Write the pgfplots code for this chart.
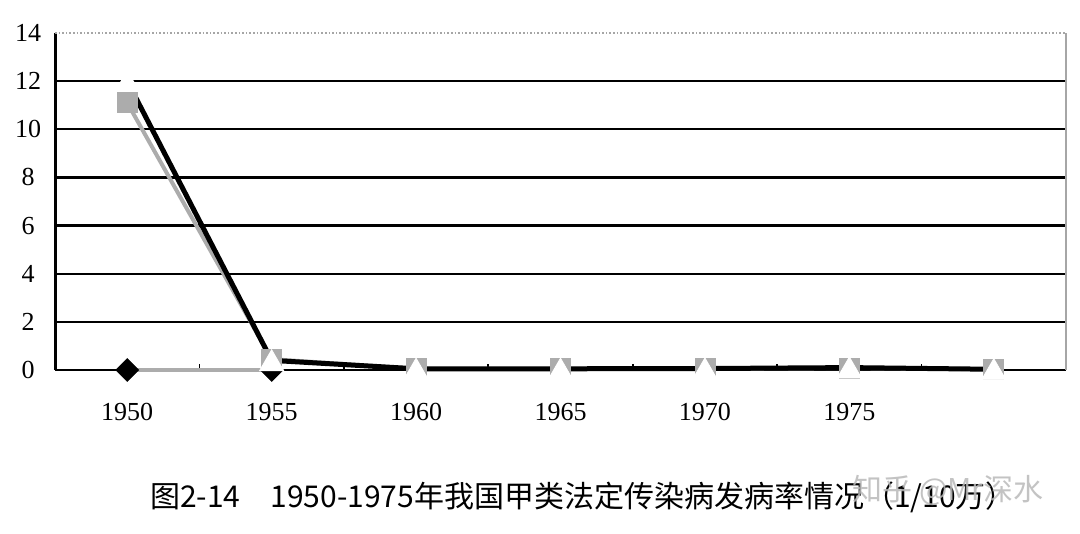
\documentclass[border=0pt]{standalone}
\usepackage{pgfplots}
\pgfplotsset{compat=1.18}
\usepackage{fontspec}
\setmainfont{Liberation Serif}
\newfontfamily\cjk{Noto Sans CJK SC}

\begin{document}
\begin{tikzpicture}
\useasboundingbox (0,0) rectangle (540pt,267pt);
\begin{axis}[
  at={(27.5pt,82pt)}, anchor=south west,
  scale only axis, width=505.5pt, height=168.5pt,
  xmin=-0.5, xmax=6.5, ymin=0, ymax=14,
  axis x line*=bottom, axis y line*=left,
  x axis line style={line width=1.2pt,-},
  y axis line style={line width=1.5pt,-},
  xtick={0,...,6}, xticklabels={1950,1955,1960,1965,1970,1975,{}},
  major x tick style={draw=none},
  minor xtick={0.5,1.5,...,6.5},
  minor x tick style={black, line width=0.8pt},
  minor tick length=3pt, tick align=inside,
  ytick={0,2,...,12}, major y tick style={draw=none},
  extra y ticks={14},
  extra tick style={grid style={gray!70, line width=0.8pt, densely dotted}, major tick length=0pt},
  ymajorgrids, grid style={black, line width=1.2pt},
  yticklabel style={anchor=center, xshift=-13.5pt},
  xticklabel style={anchor=center, yshift=-21pt},
  tick label style={font=\fontsize{13}{15}\selectfont},
  /pgf/number format/assume math mode=true,
  clip=false,
]
% lines first (diamond, square, triangle series)
\addplot[gray!65, line width=1.6pt, no marks] coordinates {(0,0) (1,0)};
\addplot[gray!65, line width=2pt, no marks] coordinates {(0,11.1) (1,0.45) (2,0.05) (3,0.05) (4,0.05) (5,0.08) (6,0.03)};
\addplot[black, line width=2.5pt, no marks] coordinates {(0,12.0) (1,0.4) (2,0.05) (3,0.05) (4,0.06) (5,0.1) (6,0.03)};
% markers on top
\addplot[only marks, mark=square*, mark size=4pt, mark options={rotate=45, fill=black, draw=black}] coordinates {(0,0) (1,0)};
\addplot[only marks, mark=square*, mark size=5pt, mark options={fill=gray!65, draw=gray!65}] coordinates {(0,11.1) (1,0.45) (2,0.05) (3,0.05) (4,0.05) (5,0.08) (6,0.03)};
\addplot[only marks, mark=triangle*, mark size=7pt, mark options={fill=white, draw=white, yshift=-1.7pt}] coordinates {(0,12.0) (1,0.4) (2,0.05) (3,0.05) (4,0.06) (5,0.1) (6,0.03)};
\draw[gray!70, line width=0.6pt] (rel axis cs:1,0) -- (rel axis cs:1,1);
\end{axis}
\node[font=\cjk\fontsize{15}{18}\selectfont, anchor=center] at (291.5pt,18.5pt)
  {图2-14\quad 1950-1975年我国甲类法定传染病发病率情况（1/10万）};
\node[font=\cjk\fontsize{15}{18}\selectfont, text=gray!55, opacity=0.85] at (474pt,22pt) {知乎 @Mr深水};
\end{tikzpicture}
\end{document}
